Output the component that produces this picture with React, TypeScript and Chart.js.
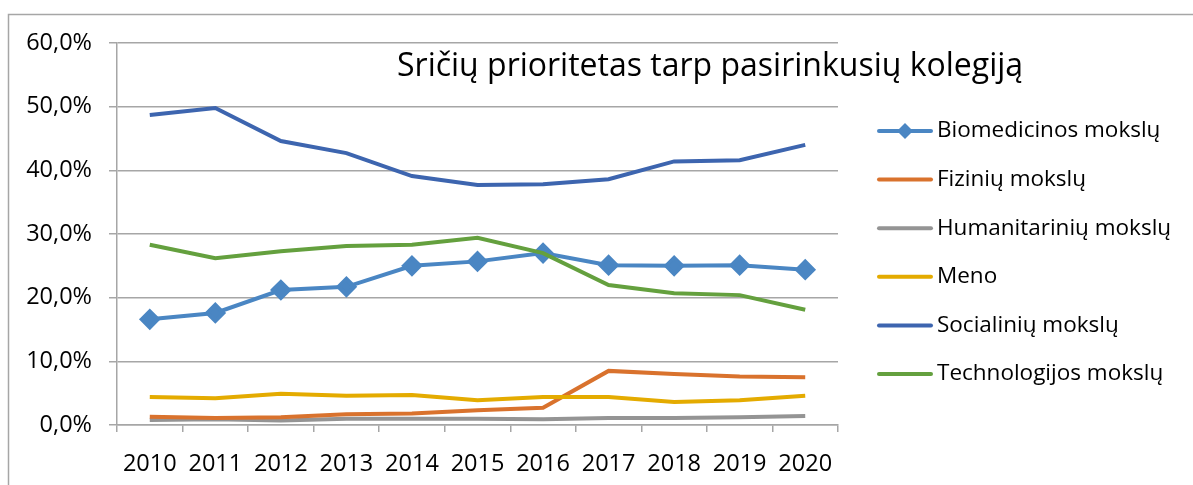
import React, { useEffect, useRef } from "react";
import { Chart, registerables } from "chart.js";

Chart.register(...registerables);

const years = ["2010", "2011", "2012", "2013", "2014", "2015", "2016", "2017", "2018", "2019", "2020"];
const biomedicinos = [16.6, 17.6, 21.2, 21.7, 25.0, 25.7, 27.0, 25.1, 25.0, 25.1, 24.4];
const fiziniu = [1.3, 1.1, 1.2, 1.7, 1.8, 2.3, 2.7, 8.5, 8.0, 7.6, 7.5];
const humanitariniu = [0.8, 0.9, 0.7, 1.0, 1.0, 1.0, 0.9, 1.1, 1.1, 1.2, 1.4];
const meno = [4.4, 4.2, 4.9, 4.6, 4.7, 3.9, 4.4, 4.4, 3.6, 3.9, 4.6];
const socialiniu = [48.7, 49.8, 44.6, 42.7, 39.1, 37.7, 37.8, 38.6, 41.4, 41.6, 44.0];
const technologijos = [28.3, 26.2, 27.3, 28.1, 28.3, 29.4, 27.0, 22.0, 20.7, 20.4, 18.1];
const seriesNames = [
  "Biomedicinos mokslų",
  "Fizinių mokslų",
  "Humanitarinių mokslų",
  "Meno",
  "Socialinių mokslų",
  "Technologijos mokslų",
];
const seriesColors = ["#4A86C3", "#D9722D", "#949494", "#E4AB00", "#3D65AF", "#64A03E"];
const chartTitle = "Sričių prioritetas tarp pasirinkusių kolegiją";

const FONT = "'Open Sans', sans-serif";

const overlayPlugin = {
  id: "overlay",
  beforeDraw(chart: any) {
    const ctx = chart.ctx;
    ctx.save();
    ctx.fillStyle = "#ffffff";
    ctx.fillRect(0, 0, chart.width, chart.height);
    ctx.strokeStyle = "#A6A6A6";
    ctx.lineWidth = 1.5;
    ctx.beginPath();
    ctx.moveTo(8.5, chart.height + 2);
    ctx.lineTo(8.5, 14.5);
    ctx.lineTo(chart.width + 2, 14.5);
    ctx.stroke();
    ctx.restore();
  },
  afterDraw(chart: any) {
    const ctx = chart.ctx;
    ctx.save();
    // title
    ctx.fillStyle = "#000000";
    ctx.font = `32px ${FONT}`;
    ctx.textAlign = "left";
    ctx.textBaseline = "middle";
    ctx.fillText(chartTitle, 397, 67);
    // legend
    ctx.font = `22.5px ${FONT}`;
    const startY = 131;
    const step = 48.6;
    chart.data.datasets.forEach((ds: any, i: number) => {
      const y = startY + i * step;
      ctx.strokeStyle = ds.borderColor;
      ctx.lineWidth = 4;
      ctx.lineCap = "round";
      ctx.beginPath();
      ctx.moveTo(879, y);
      ctx.lineTo(931, y);
      ctx.stroke();
      if (ds.pointStyle === "rectRot") {
        ctx.fillStyle = ds.borderColor;
        const r = 8;
        ctx.beginPath();
        ctx.moveTo(905, y - r);
        ctx.lineTo(905 + r, y);
        ctx.lineTo(905, y + r);
        ctx.lineTo(905 - r, y);
        ctx.closePath();
        ctx.fill();
      }
      ctx.fillStyle = "#000000";
      ctx.fillText(ds.label, 937, y);
    });
    ctx.restore();
  },
};

export default function App() {
  const ref = useRef<HTMLCanvasElement>(null);
  useEffect(() => {
    const values = [biomedicinos, fiziniu, humanitariniu, meno, socialiniu, technologijos];
    const datasets = values.map((v, i) => ({
      label: seriesNames[i],
      data: v,
      borderColor: seriesColors[i],
      backgroundColor: seriesColors[i],
      borderWidth: 4,
      pointStyle: i === 0 ? "rectRot" : "circle",
      pointRadius: i === 0 ? 8 : 0,
      pointHoverRadius: i === 0 ? 8 : 0,
      tension: 0,
      order: [3, 5, 6, 4, 1, 2][i],
    }));
    const chart = new Chart(ref.current!, {
      type: "line",
      data: { labels: years, datasets: datasets as any },
      plugins: [overlayPlugin],
      options: {
        animation: false,
        responsive: false,
        devicePixelRatio: 1,
        layout: { padding: { left: 0, top: 43, right: 355, bottom: 0 } },
        plugins: { legend: { display: false }, title: { display: false }, tooltip: { enabled: false } },
        scales: {
          x: {
            offset: true,
            grid: {
              offset: true,
              drawOnChartArea: false,
              drawTicks: true,
              tickLength: 7,
              color: "#A6A6A6",
              lineWidth: 1.5,
            },
            border: { color: "#A6A6A6", width: 1.5 },
            ticks: { color: "#000", font: { family: FONT, size: 23.5 }, padding: 18, maxRotation: 0 },
            afterFit: (s: any) => {
              s.height = 60;
            },
          },
          y: {
            min: 0,
            max: 60,
            ticks: {
              stepSize: 10,
              color: "#000",
              font: { family: FONT, size: 23.5 },
              padding: 17,
              callback: (v: any) => Number(v).toFixed(1).replace(".", ",") + "%",
            },
            grid: { color: "#A6A6A6", lineWidth: 1.5, tickLength: 8 },
            border: { color: "#A6A6A6", width: 1.5 },
            afterFit: (s: any) => {
              s.width = 117;
            },
          },
        },
      },
    });
    return () => chart.destroy();
  }, []);
  return (
    <div style={{ position: "absolute", left: 0, top: 0, width: 1193, height: 485 }}>
      <canvas ref={ref} width={1193} height={485} style={{ display: "block" }} />
    </div>
  );
}
